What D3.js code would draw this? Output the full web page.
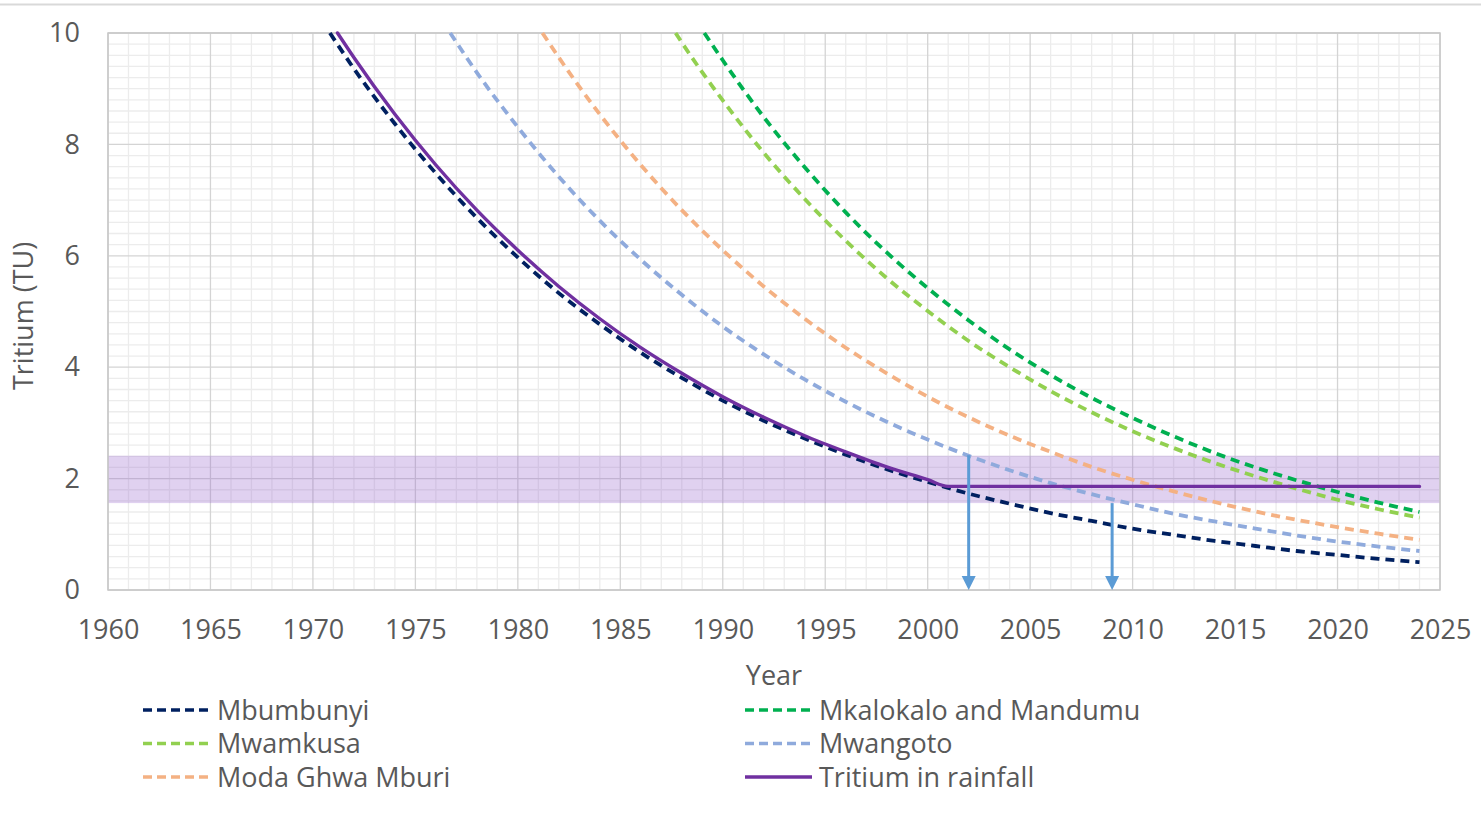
<!DOCTYPE html>
<html>
<head>
<meta charset="utf-8">
<script src="https://cdn.jsdelivr.net/npm/d3@7"></script>
<style>
  html, body { margin: 0; padding: 0; background: #fff; }
  svg { display: block; font-family: "Open Sans", "Noto Sans", sans-serif; }
</style>
</head>
<body>
<svg id="chart" width="1481" height="818"></svg>
<script>
// Tritium decay curves per site (TU by year)
const mbumbunyiYears = [1970.83, 1972, 1974, 1976, 1978, 1980, 1982, 1984, 1986, 1988, 1990, 1992, 1994, 1996, 1998, 2000, 2002, 2004, 2006, 2008, 2010, 2012, 2014, 2016, 2018, 2020, 2022, 2024];
const mbumbunyiValues = [10, 9.36, 8.37, 7.48, 6.68, 5.97, 5.33, 4.77, 4.26, 3.81, 3.40, 3.04, 2.72, 2.43, 2.17, 1.94, 1.73, 1.55, 1.38, 1.24, 1.10, 0.99, 0.88, 0.79, 0.70, 0.63, 0.56, 0.50];

const mkalokaloYears = [1989.1, 1990, 1992, 1994, 1996, 1998, 2000, 2002, 2004, 2006, 2008, 2010, 2012, 2014, 2016, 2018, 2020, 2022, 2024];
const mkalokaloValues = [10, 9.51, 8.49, 7.59, 6.78, 6.06, 5.42, 4.84, 4.32, 3.86, 3.45, 3.09, 2.76, 2.46, 2.20, 1.97, 1.76, 1.57, 1.40];

const mwamkusaYears = [1987.7, 1988, 1990, 1992, 1994, 1996, 1998, 2000, 2002, 2004, 2006, 2008, 2010, 2012, 2014, 2016, 2018, 2020, 2022, 2024];
const mwamkusaValues = [10, 9.83, 8.79, 7.85, 7.02, 6.27, 5.60, 5.01, 4.47, 4.00, 3.57, 3.19, 2.85, 2.55, 2.28, 2.04, 1.82, 1.62, 1.45, 1.30];

const mwangotoYears = [1976.7, 1978, 1980, 1982, 1984, 1986, 1988, 1990, 1992, 1994, 1996, 1998, 2000, 2002, 2004, 2006, 2008, 2010, 2012, 2014, 2016, 2018, 2020, 2022, 2024];
const mwangotoValues = [10, 9.29, 8.31, 7.42, 6.63, 5.93, 5.30, 4.73, 4.23, 3.78, 3.38, 3.02, 2.70, 2.41, 2.15, 1.92, 1.72, 1.54, 1.37, 1.23, 1.10, 0.98, 0.87, 0.78, 0.70];

const modaYears = [1981.2, 1982, 1984, 1986, 1988, 1990, 1992, 1994, 1996, 1998, 2000, 2002, 2004, 2006, 2008, 2010, 2012, 2014, 2016, 2018, 2020, 2022, 2024];
const modaValues = [10, 9.56, 8.54, 7.63, 6.82, 6.10, 5.45, 4.87, 4.35, 3.89, 3.47, 3.10, 2.77, 2.48, 2.21, 1.98, 1.77, 1.58, 1.41, 1.26, 1.13, 1.01, 0.90];

const rainfallYears = [1971.2, 1972, 1974, 1976, 1978, 1980, 1982, 1984, 1986, 1988, 1990, 1992, 1994, 1996, 1998, 2000, 2001, 2024];
const rainfallValues = [10, 9.56, 8.54, 7.63, 6.82, 6.10, 5.45, 4.87, 4.35, 3.89, 3.47, 3.10, 2.77, 2.48, 2.21, 1.98, 1.86, 1.86];

// Shaded range of present-day rainfall tritium
const rainfallBand = [1.56, 2.41];

// Recharge-year arrows: year, starting TU
const arrowYears = [2002, 2009];
const arrowTops = [2.42, 1.56];

const xTicks = [1960, 1965, 1970, 1975, 1980, 1985, 1990, 1995, 2000, 2005, 2010, 2015, 2020, 2025];
const yTicks = [0, 2, 4, 6, 8, 10];

const seriesNames = ["Mbumbunyi", "Mkalokalo and Mandumu", "Mwamkusa", "Mwangoto", "Moda Ghwa Mburi", "Tritium in rainfall"];
const seriesColors = ["#002060", "#00b050", "#92d050", "#8faadc", "#f4b183", "#7030a0"];

const series = [
  { name: seriesNames[0], color: seriesColors[0], dashed: true, years: mbumbunyiYears, values: mbumbunyiValues },
  { name: seriesNames[1], color: seriesColors[1], dashed: true, years: mkalokaloYears, values: mkalokaloValues },
  { name: seriesNames[2], color: seriesColors[2], dashed: true, years: mwamkusaYears, values: mwamkusaValues },
  { name: seriesNames[3], color: seriesColors[3], dashed: true, years: mwangotoYears, values: mwangotoValues },
  { name: seriesNames[4], color: seriesColors[4], dashed: true, years: modaYears, values: modaValues },
  { name: seriesNames[5], color: seriesColors[5], dashed: false, years: rainfallYears, values: rainfallValues }
];

const svg = d3.select("#chart");
const plot = { left: 108, right: 1440, top: 33, bottom: 590 };
const fontSize = "27px";

const x = d3.scaleLinear().domain([1960, 2025]).range([plot.left, plot.right]);
const y = d3.scaleLinear().domain([0, 10]).range([plot.bottom, plot.top]);

// Thin frame line at the very top
svg.append("line").attr("x1", 0).attr("x2", 1481).attr("y1", 4.5).attr("y2", 4.5)
  .attr("stroke", "#d9d9d9").attr("stroke-width", 2);

// Minor grid
const grid = svg.append("g");
grid.selectAll(".vminor").data(d3.range(1961, 2025).filter(v => v % 5 !== 0)).join("line")
  .attr("x1", d => x(d)).attr("x2", d => x(d)).attr("y1", plot.top).attr("y2", plot.bottom)
  .attr("stroke", "#ececec").attr("stroke-width", 1.3);
grid.selectAll(".hminor").data(d3.range(1, 50).filter(i => i % 10 !== 0).map(i => i * 0.2)).join("line")
  .attr("x1", plot.left).attr("x2", plot.right).attr("y1", d => y(d)).attr("y2", d => y(d))
  .attr("stroke", "#ececec").attr("stroke-width", 1.3);
// Major grid
grid.selectAll(".vmajor").data(xTicks).join("line")
  .attr("x1", d => x(d)).attr("x2", d => x(d)).attr("y1", plot.top).attr("y2", plot.bottom)
  .attr("stroke", "#d4d4d4").attr("stroke-width", 1.3);
grid.selectAll(".hmajor").data(yTicks).join("line")
  .attr("x1", plot.left).attr("x2", plot.right).attr("y1", d => y(d)).attr("y2", d => y(d))
  .attr("stroke", "#d4d4d4").attr("stroke-width", 1.3);

// Rainfall tritium band
svg.append("rect")
  .attr("x", plot.left).attr("width", plot.right - plot.left)
  .attr("y", y(rainfallBand[1])).attr("height", y(rainfallBand[0]) - y(rainfallBand[1]))
  .attr("fill", "#9966cc").attr("fill-opacity", 0.3);

// Plot frame
svg.append("rect").attr("x", plot.left).attr("y", plot.top)
  .attr("width", plot.right - plot.left).attr("height", plot.bottom - plot.top)
  .attr("fill", "none").attr("stroke", "#c8c8c8").attr("stroke-width", 1.5);

// Axes
const tickColor = "#595959";
const xAxis = svg.append("g").attr("transform", `translate(0,${plot.bottom})`)
  .call(d3.axisBottom(x).tickValues(xTicks).tickFormat(d3.format("d")).tickSize(0).tickPadding(30));
const yAxis = svg.append("g").attr("transform", `translate(${plot.left},0)`)
  .call(d3.axisLeft(y).tickValues(yTicks).tickSize(0).tickPadding(28));
[xAxis, yAxis].forEach(a => {
  a.select(".domain").remove();
  a.selectAll("text").attr("fill", tickColor).style("font-size", fontSize)
    .style("font-family", "'Open Sans', sans-serif");
});

// Axis titles
svg.append("text").attr("x", 774).attr("y", 685).attr("text-anchor", "middle")
  .attr("fill", tickColor).style("font-size", fontSize).text("Year");
svg.append("text").attr("transform", `translate(33,${y(4.92)}) rotate(-90)`)
  .attr("text-anchor", "middle").attr("fill", tickColor).style("font-size", fontSize).text("Tritium (TU)");

// Series lines
const line = d3.line().x(d => x(d[0])).y(d => y(d[1])).curve(d3.curveMonotoneX);
const linesG = svg.append("g");
series.forEach(s => {
  const pts = s.years.map((yr, i) => [yr, s.values[i]]);
  linesG.append("path")
    .attr("d", line(pts))
    .attr("fill", "none")
    .attr("stroke", s.color)
    .attr("stroke-width", s.dashed ? 3.8 : 3.4)
    .attr("stroke-dasharray", s.dashed ? "9,6" : null)
    .attr("stroke-linecap", s.dashed ? "butt" : "round");
});

// Arrows from curve down to the time axis
const arrowColor = "#5b9bd5";
const arrowG = svg.append("g");
arrowYears.forEach((yr, i) => {
  const ax = x(yr);
  const headH = 14, headW = 7;
  arrowG.append("line").attr("x1", ax).attr("x2", ax)
    .attr("y1", y(arrowTops[i])).attr("y2", y(0) - headH + 1)
    .attr("stroke", arrowColor).attr("stroke-width", 3);
  arrowG.append("path")
    .attr("d", `M${ax - headW},${y(0) - headH} L${ax + headW},${y(0) - headH} L${ax},${y(0)} Z`)
    .attr("fill", arrowColor);
});

// Legend
const legendItems = [
  { idx: 0, col: 0, row: 0 },
  { idx: 2, col: 0, row: 1 },
  { idx: 4, col: 0, row: 2 },
  { idx: 1, col: 1, row: 0 },
  { idx: 3, col: 1, row: 1 },
  { idx: 5, col: 1, row: 2 }
];
const legendX = [143, 745];
const legendY0 = 710, legendDy = 33.5;
const legend = svg.append("g");
legendItems.forEach(it => {
  const s = series[it.idx];
  const lx = legendX[it.col], ly = legendY0 + it.row * legendDy;
  legend.append("line").attr("x1", lx).attr("x2", lx + 67).attr("y1", ly).attr("y2", ly)
    .attr("stroke", s.color).attr("stroke-width", 3.6)
    .attr("stroke-dasharray", s.dashed ? "9,5" : null);
  legend.append("text").attr("x", lx + 74).attr("y", ly + 9.5)
    .attr("fill", tickColor).style("font-size", fontSize).text(s.name);
});
</script>
</body>
</html>
